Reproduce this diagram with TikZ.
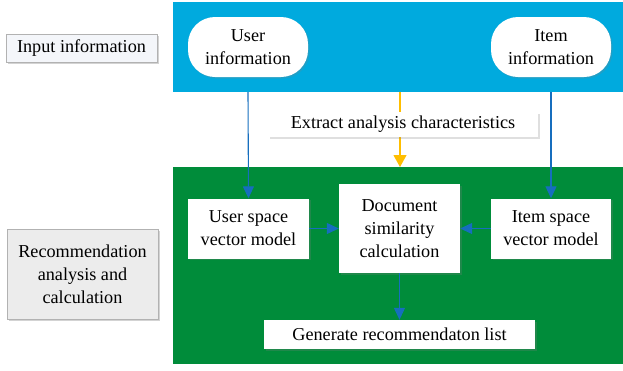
\documentclass[tikz,border=0pt]{standalone}
\usepackage{fontspec}
\setmainfont{Liberation Serif}
\usetikzlibrary{arrows.meta,shadows}

\definecolor{bandblue}{RGB}{0,170,222}
\definecolor{bandgreen}{RGB}{0,140,58}
\definecolor{flowblue}{RGB}{22,110,190}
\definecolor{flowyellow}{RGB}{255,190,0}
\definecolor{labelfill}{RGB}{244,246,250}
\definecolor{sidefill}{RGB}{236,236,236}

\begin{document}
\begin{tikzpicture}[
            x=1pt, y=-1pt,
            font=\fontsize{18.2}{23}\selectfont,
            band/.style={fill=#1, inner sep=0pt, outer sep=0pt},
            side/.style={draw=gray!60, fill=#1, align=center, inner sep=0pt,
                drop shadow={shadow xshift=1.5pt, shadow yshift=-1.5pt, opacity=.35}},
            side/.default=labelfill,
            stage/.style={fill=white, align=center, inner sep=0pt,
                drop shadow={shadow xshift=1.5pt, shadow yshift=-1.5pt, opacity=.25}},
            source/.style={stage, rounded corners=27pt},
            flow/.style={draw=flowblue, line width=1.1pt,
                -{Triangle[length=12pt, width=11pt]}}
        ]
        \useasboundingbox (0,0) rectangle (623,370);
        \node[band=bandblue, minimum width=450pt, minimum height=90pt] (inband) at (398,47) {};
        \node[band=bandgreen, minimum width=450pt, minimum height=197pt] (calcband) at (398,265.5) {};
        \node[side, minimum width=151pt, minimum height=28pt] (inlabel) at (81.5,48) {Input information};
        \node[side=sidefill, minimum width=151pt, minimum height=90pt] (calclabel) at (82.5,274)
            {Recommendation\\analysis and\\calculation};
        \node[source, minimum width=120pt, minimum height=60pt] (userinfo) at (248,47) {User\\information};
        \node[source, minimum width=120pt, minimum height=60pt] (iteminfo) at (551,47) {Item\\information};
        \coordinate (ytop) at (400,92);
        \coordinate (ybot) at (400,167);
        \draw[flowyellow, line width=1.1pt, -{Triangle[length=12pt, width=13pt]}] (ytop) -- (ybot);
        \node[stage, minimum width=270pt, minimum height=25pt] (extract) at (403,124.5)
            {Extract analysis characteristics};
        \node[stage, minimum width=121pt, minimum height=60pt] (usermodel) at (248.5,228.5)
            {User space\\vector model};
        \node[stage, minimum width=121pt, minimum height=89pt] (docsim) at (399.5,228.5)
            {Document\\similarity\\calculation};
        \node[stage, minimum width=120pt, minimum height=60pt] (itemmodel) at (551,228.5)
            {Item space\\vector model};
        \node[stage, minimum width=271pt, minimum height=29pt] (genlist) at (399.5,334.5)
            {Generate recommendaton list};
        % links between the stages
        \draw[flow] (userinfo.south |- inband.south) -- (usermodel.north);
        \draw[flow] (iteminfo.south |- inband.south) -- (itemmodel.north);
        \draw[flow] (usermodel) -- (docsim);
        \draw[flow] (itemmodel) -- (docsim);
        \draw[flow] (docsim) -- (genlist);
    \end{tikzpicture}
\end{document}
